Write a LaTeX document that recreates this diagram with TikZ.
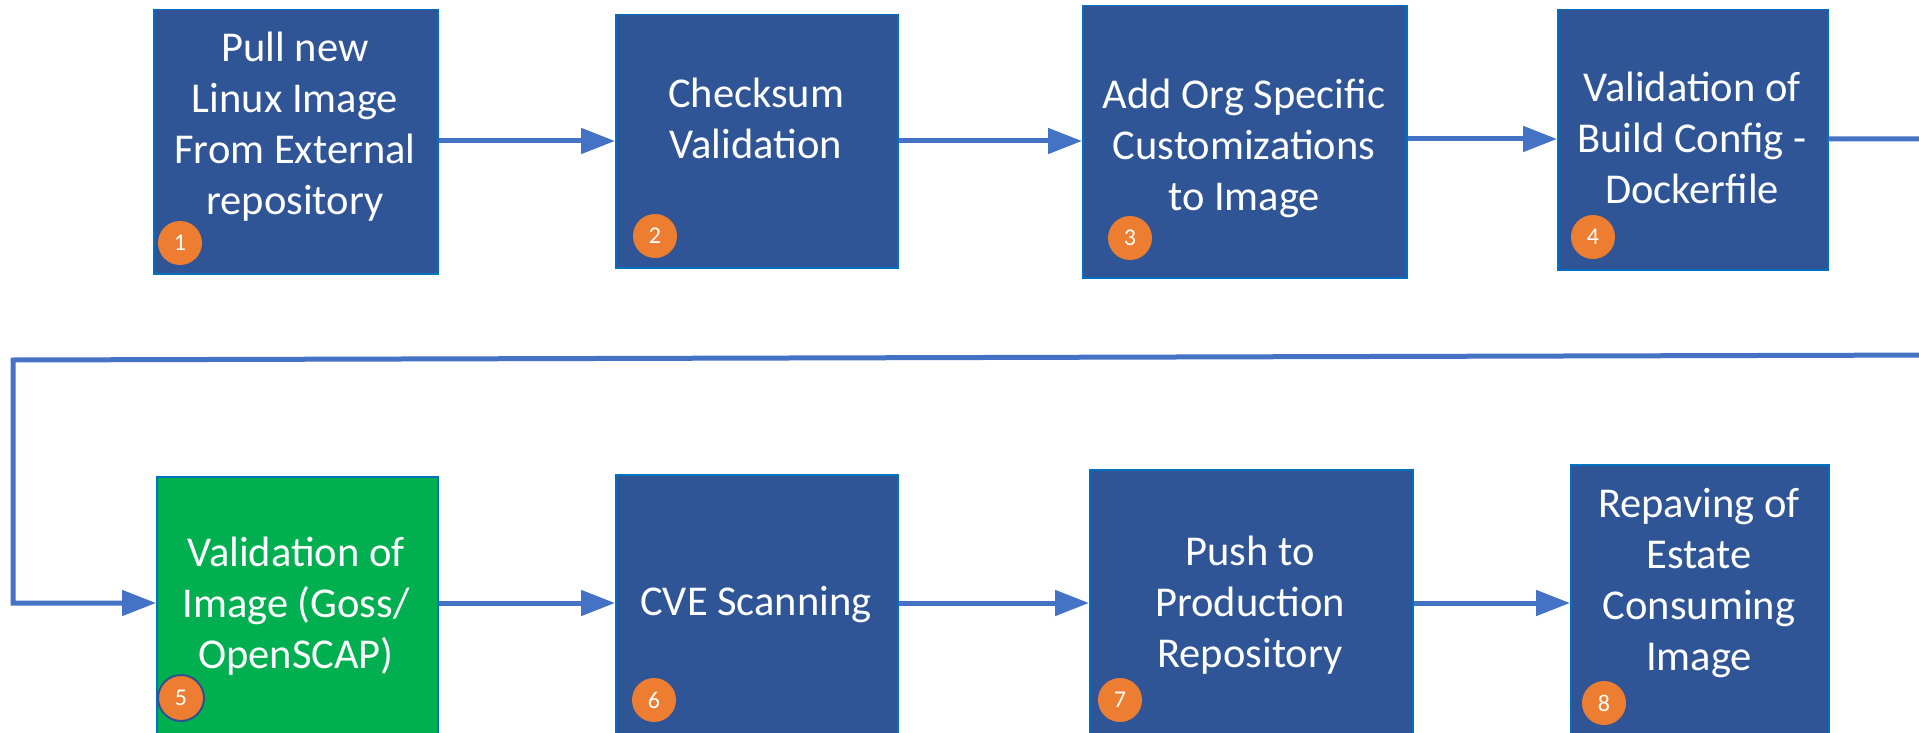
\documentclass[tikz,border=0pt]{standalone}
\usepackage{fontspec}
\setmainfont{Carlito}
\usetikzlibrary{arrows.meta}
\definecolor{boxblue}{HTML}{2F5597}
\definecolor{boxedge}{HTML}{0070C0}
\definecolor{arrowblue}{HTML}{4472C4}
\definecolor{okgreen}{HTML}{00B050}
\definecolor{badgeorange}{HTML}{ED7D31}
\definecolor{badgeedge}{HTML}{2F528F}
\begin{document}
\begin{tikzpicture}[x=1pt,y=-1pt,
  stepbox/.style={draw=boxedge, line width=1.5pt, fill=boxblue, inner sep=0pt, anchor=north west},
  greenbox/.style={stepbox, fill=okgreen},
  steptext/.style={text=white, font=\fontsize{42.5}{51}\selectfont, align=center, inner sep=0pt},
  badge/.style={circle, fill=badgeorange, minimum size=44pt, inner sep=0pt, text=white, font=\fontsize{24}{28}\selectfont},
  flow/.style={draw=arrowblue, line width=5pt, -{Triangle[length=34pt,width=25pt]}}
]
\path[use as bounding box, fill=white] (0,0) rectangle (1919,733);
\clip (0,0) rectangle (1919,733);

% row 1 boxes
\node[stepbox, minimum width=284pt, minimum height=264pt] (b1) at (153,9) {};
\node[stepbox, minimum width=282pt, minimum height=253pt] (b2) at (615,14) {};
\node[stepbox, minimum width=324pt, minimum height=272pt] (b3) at (1082,5) {};
\node[stepbox, minimum width=270pt, minimum height=260pt] (b4) at (1557,9) {};
% row 2 boxes
\node[greenbox, minimum width=281pt, minimum height=275pt] (b5) at (156,476) {};
\node[stepbox, minimum width=282pt, minimum height=277pt] (b6) at (615,474) {};
\node[stepbox, minimum width=323pt, minimum height=282pt] (b7) at (1089,469) {};
\node[stepbox, minimum width=258pt, minimum height=287pt] (b8) at (1570,464) {};

% texts
\node[steptext] (t1) at (295,127) {Pull new\\Linux Image\\From External\\repository};
\node[steptext] (t2) at (756,118) {Checksum\\Validation};
\node[steptext] (t3) at (1244,148) {Add Org Specific\\Customizations\\to Image};
\node[steptext] (t4) at (1692,138) {Validation of\\Build Config -\\Dockerfile};
\node[steptext] (t5) at (296,606) {Validation of\\Image (Goss/\\OpenSCAP)};
\node[steptext] (t6) at (756,605) {CVE Scanning};
\node[steptext] (t7) at (1250,605) {Push to\\Production\\Repository};
\node[steptext] (t8) at (1699,583) {Repaving of\\Estate\\Consuming\\Image};

% badges
\node[badge] (n1) at (180,243) {1};
\node[badge] (n2) at (655,236) {2};
\node[badge] (n3) at (1130,238) {3};
\node[badge] (n4) at (1593,237) {4};
\node[badge, draw=badgeedge, line width=2pt, minimum size=46pt] (n5) at (181,698) {5};
\node[badge] (n6) at (654,700) {6};
\node[badge] (n7) at (1120,700) {7};
\node[badge] (n8) at (1604,703) {8};

% connector rows
\coordinate (r1) at (0,141);
\coordinate (r1b) at (0,139);
\coordinate (r2) at (0,603);
\coordinate (offA) at (1950,139);
\coordinate (offB) at (1950,355);
\coordinate (lx) at (13,360);
\coordinate (ld) at (13,603);

\draw[flow] (b1.east |- r1) -- (b2.west |- r1);
\draw[flow] (b2.east |- r1) -- (b3.west |- r1);
\draw[flow] (b3.east |- r1b) -- (b4.west |- r1b);
\draw[flow] (b4.east |- r1b) -- (offA) -- (offB) -- (lx) -- (ld) -- (b5.west |- r2);
\draw[flow] (b5.east |- r2) -- (b6.west |- r2);
\draw[flow] (b6.east |- r2) -- (b7.west |- r2);
\draw[flow] (b7.east |- r2) -- (b8.west |- r2);
\end{tikzpicture}
\end{document}
